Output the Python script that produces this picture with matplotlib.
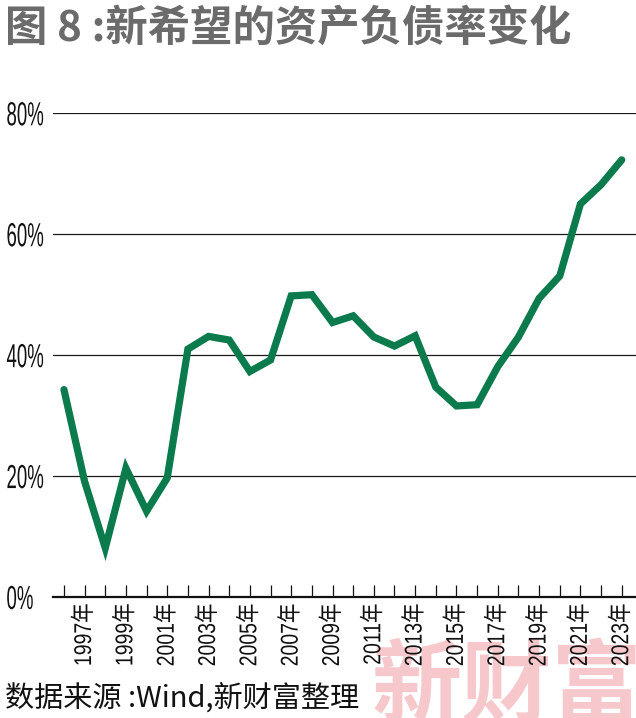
import matplotlib
matplotlib.use("Agg")
import matplotlib.pyplot as plt
from matplotlib.ticker import FixedLocator
from matplotlib.patheffects import AbstractPathEffect
from matplotlib.transforms import Affine2D

years = list(range(1996, 2024))
debt_ratio = [34.3, 19.1, 8.1, 21.3, 14.2, 19.7, 41.0, 43.1, 42.5, 37.3,
              39.2, 49.8, 50.0, 45.4, 46.5, 43.0, 41.5, 43.2, 34.7, 31.6,
              31.8, 38.1, 43.0, 49.4, 53.1, 65.0, 68.2, 72.3]
label_years = list(range(1997, 2024, 2))
x_labels = [f"{y}年" for y in label_years]
y_ticks = [0, 20, 40, 60, 80]
y_labels = [f"{v}%" for v in y_ticks]
title = "图 8 :新希望的资产负债率变化"
source = "数据来源 :Wind,新财富整理"
watermark = "新财富"

LAT = ['Liberation Sans', 'Noto Sans CJK SC', 'DejaVu Sans']
CJK = ['Noto Sans CJK SC', 'DejaVu Sans']


class Squeeze(AbstractPathEffect):
    """Render text condensed along its reading direction (narrow typeface look)."""

    def __init__(self, sx, anchor='left'):
        super().__init__()
        self.sx = sx
        self.anchor = anchor

    def draw_path(self, renderer, gc, tpath, affine, rgbFace=None):
        if self.anchor == 'right':
            x0 = tpath.get_extents().x1
        else:
            x0 = 0.0
        t = Affine2D().translate(-x0, 0).scale(self.sx, 1).translate(x0, 0) + affine
        renderer.draw_path(gc, tpath, t, rgbFace)


W, H = 636, 718
fig = plt.figure(figsize=(W / 100, H / 100), dpi=100)

# watermark behind everything
fig.text(372 / W, -16 / H, watermark, fontsize=65, family=CJK, weight='bold',
         color='#f6c8cc', ha='left', va='bottom', zorder=-5)

ax = fig.add_axes([53 / W, 1 - 597 / H, 1 - 53 / W, (597 - 113.3) / H])
ax.patch.set_alpha(0)
ax.set_xlim(1995.47, 2023.69)
ax.set_ylim(0, 80)

ax.plot(years, debt_ratio, color='#0b7a4c', lw=5.2, solid_joinstyle='miter',
        solid_capstyle='round', clip_on=False, zorder=3)

for s in ['top', 'right', 'left']:
    ax.spines[s].set_visible(False)
ax.spines['bottom'].set_linewidth(1.6)
ax.spines['bottom'].set_color('#111111')

ax.set_yticks(y_ticks)
ax.set_yticklabels(y_labels, family=LAT, fontsize=24, color='#111111',
                   path_effects=[Squeeze(0.56, 'left')])
ax.tick_params(axis='y', length=0, pad=33.5)
for lbl in ax.get_yticklabels():
    lbl.set_ha('left')
ax.yaxis.grid(True, color='#1a1a1a', lw=0.9)
ax.set_axisbelow(True)

ax.xaxis.set_major_locator(FixedLocator(label_years))
ax.xaxis.set_minor_locator(FixedLocator([y for y in years if y not in label_years]))
ax.set_xticklabels(x_labels, family=LAT, fontsize=17.5, rotation=90,
                   rotation_mode='anchor', color='#111111', va='center', ha='right',
                   path_effects=[Squeeze(0.8, 'right')])
ax.tick_params(axis='x', which='both', direction='in', length=8.5, width=0.9,
               color='#111111', pad=4.5)

fig.text(5 / W, 1 - 8 / H, title, fontsize=30.5, family=CJK, weight='bold',
         color='#6b6b6b', ha='left', va='top')
fig.text(5 / W, 1 - 714 / H, source, fontsize=21, family=CJK,
         color='#111111', ha='left', va='bottom')

fig.savefig('out.png', dpi=100)
